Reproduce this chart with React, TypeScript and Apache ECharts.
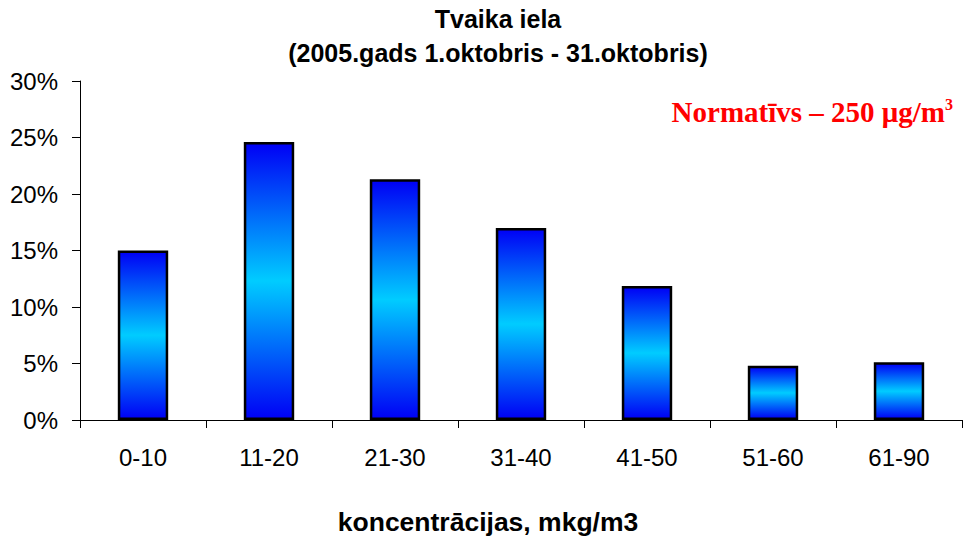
import React, { useEffect, useRef } from "react";
import * as echarts from "echarts";

const categories = ["0-10", "11-20", "21-30", "31-40", "41-50", "51-60", "61-90"];
const values = [15.0, 24.6, 21.3, 17.0, 11.85, 4.8, 5.1];
const yTicks = [0, 5, 10, 15, 20, 25, 30];
const titleLines = ["Tvaika iela", "(2005.gads 1.oktobris - 31.oktobris)"];
const xAxisName = "koncentrācijas, mkg/m3";
const normText = "Normatīvs – 250 μg/m";

const sans = "Liberation Sans, Arial, sans-serif";
const serif = "Liberation Serif, Times New Roman, serif";

export default function App() {
  const ref = useRef<HTMLDivElement>(null);
  useEffect(() => {
    const chart = echarts.init(ref.current!, null, { renderer: "svg" });
    const grad = new echarts.graphic.LinearGradient(0, 0, 0, 1, [
      { offset: 0, color: "#0000f5" },
      { offset: 0.5, color: "#00ccff" },
      { offset: 1, color: "#0000f5" },
    ]);
    chart.setOption({
      animation: false,
      backgroundColor: "#ffffff",
      graphic: [
        {
          type: "text",
          x: 498,
          y: 19,
          style: {
            text: titleLines[0],
            font: "bold 25px " + sans,
            fill: "#000",
            align: "center",
            verticalAlign: "middle",
          },
        },
        {
          type: "text",
          x: 498,
          y: 53,
          style: {
            text: titleLines[1],
            font: "bold 25px " + sans,
            fill: "#000",
            align: "center",
            verticalAlign: "middle",
          },
        },
        {
          type: "text",
          x: 488,
          y: 522,
          style: {
            text: xAxisName,
            font: "bold 26.5px " + sans,
            fill: "#000",
            align: "center",
            verticalAlign: "middle",
          },
        },
        {
          type: "text",
          x: 953,
          y: 112,
          style: {
            text: "{a|" + normText + "}{b|3}",
            align: "right",
            verticalAlign: "middle",
            fill: "#ff0000",
            rich: {
              a: {
                fontFamily: serif,
                fontWeight: "bold",
                fontSize: 29,
                fill: "#ff0000",
                color: "#ff0000",
              },
              b: {
                fontFamily: serif,
                fontWeight: "bold",
                fontSize: 16,
                fill: "#ff0000",
                color: "#ff0000",
                padding: [0, 0, 16, 0],
              },
            },
          },
        },
      ],
      grid: { left: 80, right: 1, top: 81, bottom: 120, containLabel: false },
      xAxis: {
        type: "category",
        data: categories,
        axisLine: { lineStyle: { color: "#000", width: 1 } },
        axisTick: { show: true, length: 8, inside: false, lineStyle: { color: "#000" } },
        axisLabel: {
          margin: 25,
          fontFamily: sans,
          fontSize: 24,
          color: "#000",
        },
      },
      yAxis: {
        type: "value",
        min: 0,
        max: 30,
        interval: 5,
        axisLine: { show: true, lineStyle: { color: "#000", width: 1 } },
        axisTick: { show: true, length: 8, lineStyle: { color: "#000" } },
        splitLine: { show: false },
        axisLabel: {
          margin: 22,
          fontFamily: sans,
          fontSize: 24,
          color: "#000",
          formatter: (v: number) => (yTicks.includes(v) ? v + "%" : ""),
        },
      },
      series: [
        {
          type: "bar",
          data: values,
          barWidth: "40%",
          itemStyle: { color: grad, borderColor: "#000", borderWidth: 2.5 },
        },
      ],
    });
    return () => chart.dispose();
  }, []);
  return (
    <div
      ref={ref}
      style={{ position: "absolute", left: 0, top: 0, width: 963, height: 540 }}
    />
  );
}
